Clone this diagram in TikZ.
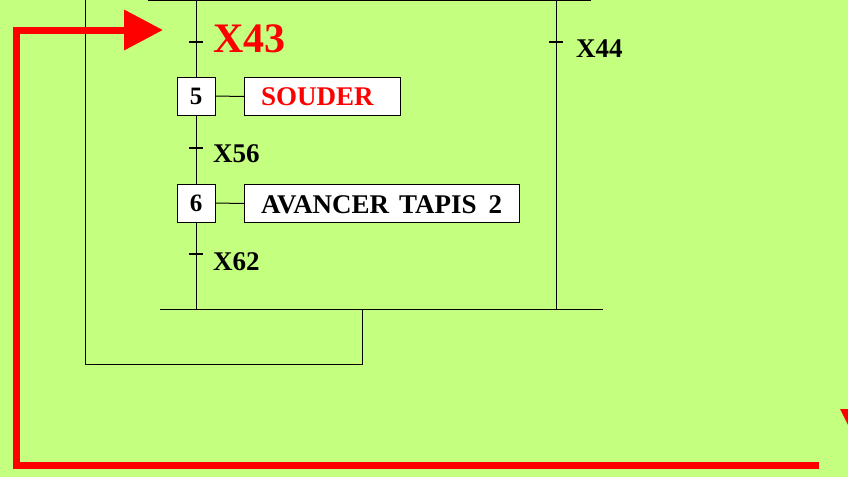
\documentclass[tikz,border=0pt]{standalone}
\usepackage{fontspec}
\setmainfont{Liberation Serif}
\usetikzlibrary{arrows.meta}
\definecolor{bg}{RGB}{196,255,128}
\tikzset{
  ln/.style={draw=black,line width=1pt},
  tick/.style={draw=black,line width=2pt},
  stepbox/.style={draw=black,line width=1pt,fill=white,minimum width=38pt,minimum height=38pt,inner sep=0pt,font=\fontsize{25}{25}\selectfont\bfseries},
  actbox/.style={draw=black,line width=1pt,fill=white,minimum height=38pt,inner sep=0pt,anchor=north west},
  lbl/.style={anchor=base west,inner sep=0pt,font=\fontsize{27}{27}\selectfont\bfseries},
  redline/.style={draw=red,line width=7pt,line join=miter}
}
\begin{document}
\begin{tikzpicture}[x=1pt,y=-1pt]
\useasboundingbox (0,0) rectangle (848,477);
\clip (0,0) rectangle (848,477);
\fill[bg] (0,0) rectangle (848,477);
% coordinates
\coordinate (top1) at (148,0.5);
\coordinate (top2) at (591,0.5);
\coordinate (vtop) at (196,0);
\coordinate (rtop) at (556,0);
\coordinate (rbot) at (556,309);
\coordinate (vbot) at (196,309);
\coordinate (bb1) at (160,309);
\coordinate (bb2) at (603,309);
\coordinate (lp1) at (85,0);
\coordinate (lp2) at (85,364);
\coordinate (lp3) at (362,364);
\coordinate (lp4) at (362,309);
% steps and actions
\node[stepbox] (s5) at (196,96) {5};
\node[stepbox] (s6) at (196,203) {6};
\node[actbox,minimum width=156pt] (a5) at (244,77) {};
\node[actbox,minimum width=275pt] (a6) at (244,184) {};
\node[lbl,text=red] (a5t) at (261,105) {SOUDER};
\node[lbl] (a6t) at (261,213) {AVANCER\hspace{10pt}TAPIS\hspace{12pt}2};
% lines
\draw[ln] (top1) -- (top2);
\draw[ln] (vtop) -- (s5.north);
\draw[ln] (s5.south) -- (s6.north);
\draw[ln] (s6.south) -- (vbot);
\draw[ln] (s5.east) -- (a5.west);
\draw[ln] (s6.east) -- (a6.west);
\draw[ln] (rtop) -- (rbot);
\draw[ln] (bb1) -- (bb2);
\draw[ln] (lp1) -- (lp2) -- (lp3) -- (lp4);
% transitions
\coordinate (t43) at (196,42);
\coordinate (t44) at (556,42);
\coordinate (t56) at (196,148);
\coordinate (t62) at (196,254);
\foreach \t in {t43,t44,t56,t62}{\draw[tick] ([xshift=-7pt]\t) -- ([xshift=7pt]\t);}
\node[lbl,text=red,font=\fontsize{42}{42}\selectfont\bfseries] (l43) at (213,52) {X43};
\node[lbl] (l44) at (576,57) {X44};
\node[lbl] (l56) at (213,162) {X56};
\node[lbl] (l62) at (213,270) {X62};
% red arrow
\coordinate (r1) at (819,465);
\coordinate (r2) at (16,465);
\coordinate (r3) at (16,30);
\coordinate (r4) at (163,30);
\draw[redline,-{Triangle[length=39pt,width=39pt]}] (r1) -- (r2) -- (r3) -- (r4);
\fill[red] (840,409) -- (879,409) -- (859.5,448) -- cycle;
\end{tikzpicture}
\end{document}
